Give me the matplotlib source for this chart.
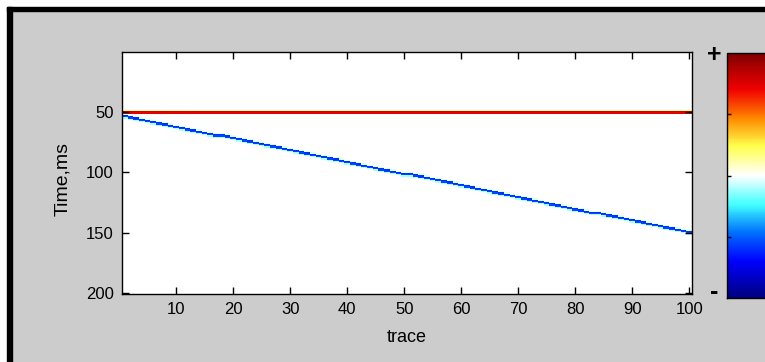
import numpy as np
import matplotlib.pyplot as plt
from matplotlib.colors import LinearSegmentedColormap
from matplotlib.patches import Rectangle

plt.rcParams['font.family'] = ['Liberation Sans', 'DejaVu Sans']

# Section size
n_traces = 100
n_samples = 200

# Events: a flat one (red) and a dipping one (blue)
flat_time = 50
dip_time_first = 53
dip_time_last = 149
wavelet_shift = [-1, 0, 1, 2]
flat_wavelet = [0.15, 0.8, 0.72, 0.0]
dip_wavelet = [-0.05, -0.6, -0.55, -0.1]

x_ticks = [10, 20, 30, 40, 50, 60, 70, 80, 90, 100]
y_ticks = [50, 100, 150, 200]

# jet-like colormap with white in the middle
cmap_pos = [0.0, 0.15, 0.27, 0.38, 0.5, 0.62, 0.73, 0.85, 1.0]
cmap_rgb = [(0, 0, 0.5), (0, 0, 1), (0, 0.45, 1), (0.25, 1, 1), (1, 1, 1),
            (1, 1, 0.3), (1, 0.55, 0), (0.95, 0, 0), (0.5, 0, 0)]
cmap = LinearSegmentedColormap.from_list('seis', list(zip(cmap_pos, cmap_rgb)), N=255)

# Build the section
traces = np.arange(1, n_traces + 1)
dip_idx = np.rint(np.interp(traces, [1, n_traces],
                            [dip_time_first, dip_time_last])).astype(int) - 1
section = np.zeros((n_samples, n_traces))
for s, a_flat, a_dip in zip(wavelet_shift, flat_wavelet, dip_wavelet):
    section[flat_time - 1 + s, :] += a_flat
    section[dip_idx + s, traces - 1] += a_dip

W, H = 765, 362
fig = plt.figure(figsize=(W / 100, H / 100), dpi=100, facecolor='#cccccc')

# window frame of the screenshot
for x0, y0, w, h, c in [(0, H - 7, W, 7, 'white'), (0, 0, 7, H, 'white'),
                        (7, H - 11, W, 4, 'black'), (7, 0, 5, H - 7, 'black')]:
    fig.add_artist(Rectangle((x0 / W, y0 / H), w / W, h / H, color=c,
                             transform=fig.transFigure, zorder=0))

ax = fig.add_axes([122 / W, (H - 294) / H, 570 / W, 242 / H])
im = ax.imshow(section, cmap=cmap, vmin=-1, vmax=1, aspect='auto',
               interpolation='nearest', extent=(0.5, n_traces + 0.5, n_samples + 0.5, 0.5))
ax.set_xticks(x_ticks)
ax.set_yticks(y_ticks)
ax.tick_params(direction='in', top=True, right=True, length=5, width=1,
               labelsize=12, pad=6)
for sp in ax.spines.values():
    sp.set_linewidth(1)
ax.set_xlabel('trace', fontsize=13)
ax.set_ylabel('Time,ms', fontsize=14)
ax.xaxis.set_label_coords(0.5, -0.145)
ax.yaxis.set_label_coords(-0.09, 0.475)

cax = fig.add_axes([727 / W, (H - 298) / H, 80 / W, 245 / H])
cb = fig.colorbar(im, cax=cax)
cb.set_ticks([-0.5, 0, 0.5])
cax.set_yticklabels([])
cax.tick_params(direction='in', left=True, right=True, length=3, width=1)
cb.outline.set_linewidth(1)

fig.text(714 / W, 1 - 55 / H, '+', ha='center', va='center', fontsize=18, fontweight='bold')
fig.text(714 / W, 1 - 292 / H, '-', ha='center', va='center', fontsize=18, fontweight='bold')

fig.savefig('out.png', dpi=100, facecolor=fig.get_facecolor())
